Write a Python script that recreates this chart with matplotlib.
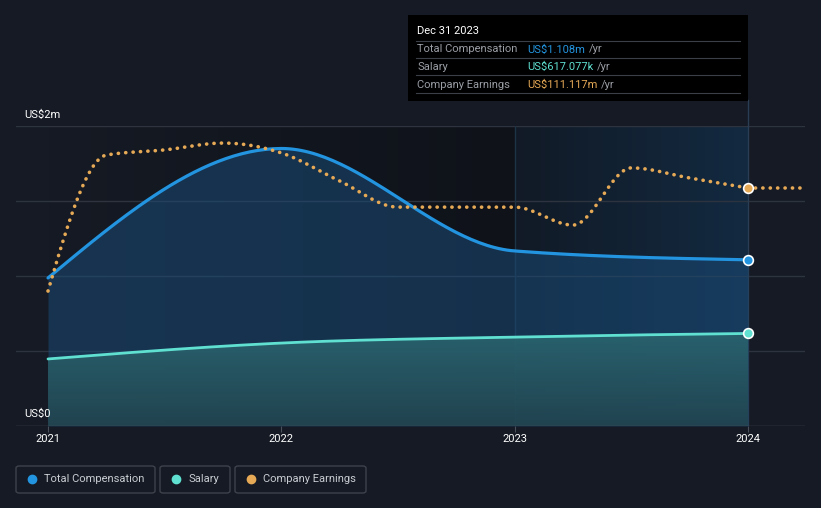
import numpy as np
import matplotlib
matplotlib.use("Agg")
import matplotlib.pyplot as plt
from matplotlib.patches import FancyBboxPatch, Rectangle
from matplotlib.colors import LinearSegmentedColormap

plt.rcParams['font.family'] = ['Roboto', 'DejaVu Sans']

# annual values (US$ m), points at year start
comp_years = [2021.0, 2022.0, 2023.0, 2024.0]
total_comp = [0.987, 1.85, 1.167, 1.108]
salary = [0.447, 0.553, 0.593, 0.617]

# company earnings (US$ m), quarterly
earn_years = [2021.0, 2021.25, 2021.5, 2021.75, 2022.0, 2022.25, 2022.5, 2022.75,
              2023.0, 2023.25, 2023.5, 2023.75, 2024.0]
earnings = [63.0, 126.5, 128.9, 132.1, 127.5, 114.4, 102.2, 102.2,
            102.2, 93.8, 120.5, 115.8, 111.117]

tick_years = [2021, 2022, 2023, 2024]

BG = '#151a24'
GRID = '#2e343f'
C_TOTAL = '#2394df'
C_SAL = '#5fe0d0'
C_EARN = '#e6a956'

W, H = 821, 508


def fx(x):
    return x / W


def fy(y):
    return 1 - y / H


def monotone(x, y, n=60):
    # d3 curveMonotoneX style interpolation for drawing
    x = np.asarray(x, float)
    y = np.asarray(y, float)
    h = np.diff(x)
    s = np.diff(y) / h
    t = np.zeros(len(x))
    sg = lambda v: -1.0 if v < 0 else 1.0
    for i in range(1, len(x) - 1):
        p = (s[i - 1] * h[i] + s[i] * h[i - 1]) / (h[i - 1] + h[i])
        t[i] = (sg(s[i - 1]) + sg(s[i])) * min(abs(s[i - 1]), abs(s[i]), 0.5 * abs(p))
    t[0] = (3 * s[0] - t[1]) / 2
    t[-1] = (3 * s[-1] - t[-2]) / 2
    xs, ys = [], []
    for i in range(len(x) - 1):
        u = np.linspace(0, 1, n)
        h00 = 2 * u**3 - 3 * u**2 + 1
        h10 = u**3 - 2 * u**2 + u
        h01 = -2 * u**3 + 3 * u**2
        h11 = u**3 - u**2
        xs.append(x[i] + u * h[i])
        ys.append(h00 * y[i] + h10 * h[i] * t[i] + h01 * y[i + 1] + h11 * h[i] * t[i + 1])
    return np.concatenate(xs), np.concatenate(ys)


fig = plt.figure(figsize=(8.21, 5.08), dpi=100, facecolor=BG)
ax = fig.add_axes([fx(16), fy(426), fx(789), 300 / H])
ax.set_facecolor(BG)
ax.set_xlim(2021 - 32 / 233.33, 2024 + 57 / 233.33)
ax.set_ylim(0, 2.0)
for sp in ax.spines.values():
    sp.set_visible(False)

# background gradients
past = LinearSegmentedColormap.from_list('past', ['#151a24', '#0f1219'])
ax.imshow(np.linspace(0, 1, 256).reshape(1, -1), cmap=past, aspect='auto',
          extent=[2021, 2023, 0, 2], zorder=0)
hl = LinearSegmentedColormap.from_list('hl', ['#111a26', '#132a41'])
ax.imshow(np.linspace(0, 1, 256).reshape(1, -1), cmap=hl, aspect='auto',
          extent=[2023, 2024, 0, 2], zorder=0)

# grid
for v in [0.5, 1.0, 1.5, 2.0]:
    ax.axhline(v, color=GRID, lw=1, zorder=1)
ax.axhline(0, color='#4a505b', lw=1, zorder=6)
ax.axvline(2023, color='#1f3347', lw=1, zorder=1)

xt, yt = monotone(comp_years, total_comp)
xs, ys = monotone(comp_years, salary)

ax.fill_between(xt, yt, 0, color='#1a4a76', alpha=0.55, lw=0, zorder=2)
sal_fill = ax.fill_between(xs, ys, 0, color='none', lw=0, zorder=3)
sal_cmap = LinearSegmentedColormap.from_list('sal', ['#234550', '#2a6670'])
img = ax.imshow(np.linspace(0, 1, 256).reshape(-1, 1), cmap=sal_cmap, aspect='auto',
                origin='lower', extent=[2021, 2024, 0, max(salary)], zorder=3, alpha=0.9)
img.set_clip_path(sal_fill.get_paths()[0], transform=ax.transData)

ax.plot(xt, yt, color=C_TOTAL, lw=2.3, zorder=5, solid_capstyle='round')
ax.plot(xs, ys, color=C_SAL, lw=2.0, zorder=5, solid_capstyle='round')

# earnings on own scale
ax2 = ax.twinx()
ax2.set_ylim(0, 111.117 * 300 / 238)
ax2.axis('off')
xe, ye = monotone(earn_years, earnings)
dots = (0, (0.05, 2.0))
ax2.plot(xe, ye, color=C_EARN, lw=2.6, linestyle=dots, dash_capstyle='round', zorder=5)
ax2.plot([earn_years[-1], ax.get_xlim()[1]], [earnings[-1], earnings[-1]], color=C_EARN,
         lw=2.6, linestyle=dots, dash_capstyle='round', zorder=5)

# current markers
ax.axvline(2024, color='#2a3d52', lw=1, zorder=1)
ax.plot([2024], [total_comp[-1]], 'o', ms=7, mfc=C_TOTAL, mec='white', mew=1.2, zorder=8)
ax.plot([2024], [salary[-1]], 'o', ms=7, mfc=C_SAL, mec='white', mew=1.2, zorder=8)
ax2.plot([2024], [earnings[-1]], 'o', ms=7, mfc=C_EARN, mec='white', mew=1.2, zorder=8)

# ticks
ax.set_xticks(tick_years)
ax.set_xticklabels([str(t) for t in tick_years], color='white', fontsize=8)
ax.tick_params(axis='x', length=4, color='#4a505b', pad=2)
ax.set_yticks([])

ax.text(fx(24), fy(115), 'US$2m', transform=fig.transFigure, color='white', fontsize=8, va='center')
ax.text(fx(24), fy(414), 'US$0', transform=fig.transFigure, color='white', fontsize=8, va='center')

# vertical line up to tooltip
fig.add_artist(plt.Line2D([fx(748), fx(748)], [fy(126), fy(100)], color='#2a3d52', lw=1))

# tooltip
fig.add_artist(Rectangle((fx(408), fy(101)), fx(340), 86 / H, facecolor='#000000',
                         edgecolor='none', transform=fig.transFigure, zorder=10))
fig.text(fx(417), fy(31), 'Dec 31 2023', color='white', fontsize=8, va='center', zorder=11)
rows = [('Total Compensation', 'US$1.108m', C_TOTAL),
        ('Salary', 'US$617.077k', C_SAL),
        ('Company Earnings', 'US$111.117m', C_EARN)]
for i, yy in enumerate([41, 58, 75, 93]):
    fig.add_artist(plt.Line2D([fx(416), fx(740)], [fy(yy), fy(yy)], color='#3a3f48',
                              lw=0.8, zorder=11))
vals = []
for i, (lab, val, c) in enumerate(rows):
    yy = 49.5 + i * 17.5
    fig.text(fx(417), fy(yy), lab, color='#9a9ea5', fontsize=8, va='center', zorder=11)
    vals.append(fig.text(fx(527), fy(yy), val, color=c, fontsize=8, va='center', zorder=11))

# legend boxes
legend = [('Total Compensation', C_TOTAL, 16, 155),
          ('Salary', C_SAL, 160, 230),
          ('Company Earnings', C_EARN, 235, 366)]
for lab, c, x0, x1 in legend:
    fig.add_artist(FancyBboxPatch((fx(x0), fy(493)), fx(x1 - x0), 27 / H,
                                  boxstyle='round,pad=0,rounding_size=0.004',
                                  facecolor='none', edgecolor='#3d424b', lw=1,
                                  transform=fig.transFigure))
    fig.add_artist(plt.Line2D([fx(x0 + 16)], [fy(479)], marker='o', ms=6, color=c,
                              transform=fig.transFigure))
    fig.text(fx(x0 + 28), fy(479), lab, color='#c9ccd1', fontsize=8, va='center')

fig.canvas.draw()
r = fig.canvas.get_renderer()
for (lab, val, c), t in zip(rows, vals):
    bb = t.get_window_extent(r)
    fig.text((bb.x1 + 4) / W, t.get_position()[1], '/yr', color='#9a9ea5', fontsize=8,
             va='center', zorder=11)

fig.savefig('out.png', dpi=100, facecolor=BG)
